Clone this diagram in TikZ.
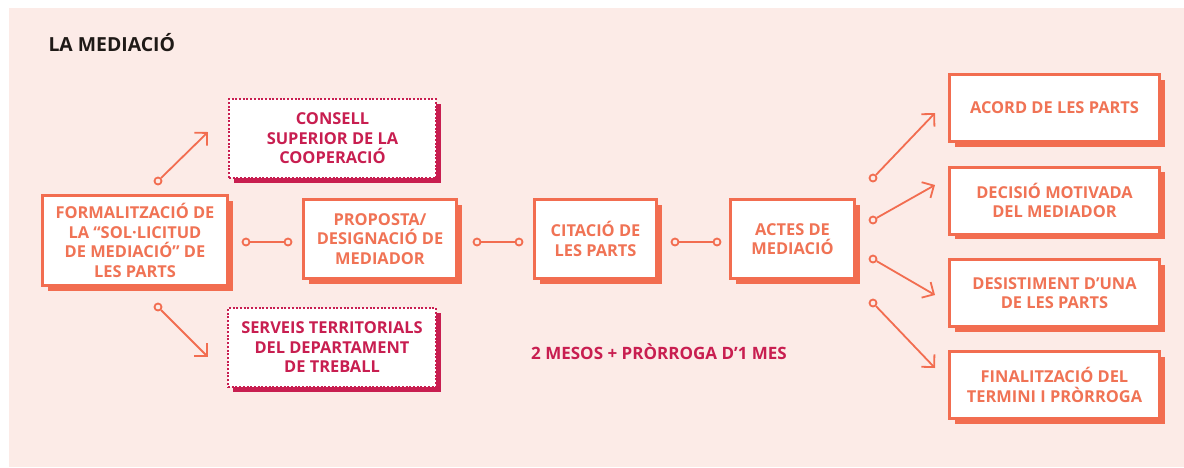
\documentclass[tikz,border=0pt]{standalone}
\usepackage{fontspec}
\setmainfont{Open Sans}
\usetikzlibrary{arrows.meta,shadows}
\definecolor{bgpink}{HTML}{FCEBE7}
\definecolor{coral}{HTML}{F26D50}
\definecolor{coraltext}{HTML}{F07355}
\definecolor{crimson}{HTML}{C81E50}
\definecolor{titleblack}{HTML}{1F1A17}
\tikzset{
  stepbox/.style={draw=coral, line width=3pt, fill=white, align=center,
    text=coraltext, font=\bfseries\fontsize{16.4}{19.5}\selectfont,
    inner sep=0pt,
    drop shadow={shadow xshift=5pt, shadow yshift=-5pt, fill=coral, opacity=1}},
  orgbox/.style={draw=crimson, line width=2.3pt, line cap=butt,
    dash pattern=on 2pt off 1.7pt, fill=white, align=center,
    text=crimson, font=\bfseries\fontsize{16.4}{19.5}\selectfont,
    inner sep=0pt,
    drop shadow={shadow xshift=5pt, shadow yshift=-5pt, fill=crimson, opacity=1}},
  ring/.style={circle, draw=coral, line width=1.8pt, fill=bgpink,
    minimum size=7pt, inner sep=0pt},
  link/.style={draw=coral, line width=1.8pt},
  arrowlink/.style={draw=coral, line width=1.8pt,
    -{Straight Barb[length=9pt, width=18pt, line width=1.8pt]}},
}
\begin{document}
\begin{tikzpicture}[x=1pt, y=-1pt]
\useasboundingbox (0,0) rectangle (1184,467);
\fill[white] (0,0) rectangle (1184,467);
\fill[bgpink] (9,8) rectangle (1184,467);

\node[anchor=west, text=titleblack, font=\bfseries\fontsize{19.4}{23}\selectfont] (title) at (45,43) {LA MEDIACIÓ};

% main flow boxes
\node[stepbox, minimum width=185pt, minimum height=90pt] (form) at (135,240.5)
  {FORMALITZACIÓ DE\\LA “SOL·LICITUD\\DE MEDIACIÓ” DE\\LES PARTS};
\node[stepbox, minimum width=153pt, minimum height=79pt] (prop) at (380,239)
  {PROPOSTA/\\DESIGNACIÓ DE\\MEDIADOR};
\node[stepbox, minimum width=122pt, minimum height=79pt] (cita) at (595.5,239)
  {CITACIÓ DE\\LES PARTS};
\node[stepbox, minimum width=124pt, minimum height=79pt] (actes) at (792.5,239)
  {ACTES DE\\MEDIACIÓ};

% organisations
\node[orgbox, minimum width=207pt, minimum height=79pt] (consell) at (332.5,138.5)
  {CONSELL\\SUPERIOR DE LA\\COOPERACIÓ};
\node[orgbox, minimum width=208pt, minimum height=79pt] (serveis) at (332,347.5)
  {SERVEIS TERRITORIALS\\DEL DEPARTAMENT\\DE TREBALL};

% outcomes
\node[stepbox, minimum width=210pt, minimum height=67pt] (acord) at (1054.5,108)
  {ACORD DE LES PARTS};
\node[stepbox, minimum width=210pt, minimum height=67pt] (decisio) at (1054.5,200.5)
  {DECISIÓ MOTIVADA\\DEL MEDIADOR};
\node[stepbox, minimum width=210pt, minimum height=67pt] (desist) at (1054.5,293)
  {DESISTIMENT D’UNA\\DE LES PARTS};
\node[stepbox, minimum width=210pt, minimum height=67pt] (final) at (1054.5,385)
  {FINALITZACIÓ DEL\\TERMINI I PRÒRROGA};

\node[text=crimson, font=\bfseries\fontsize{17}{20}\selectfont] (termini) at (659,352)
  {2 MESOS + PRÒRROGA D’1 MES};

% horizontal connectors
\node[ring] (r1a) at (246,242) {};
\node[ring] (r1b) at (288,242) {};
\node[ring] (r2a) at (477,242) {};
\node[ring] (r2b) at (519,242) {};
\node[ring] (r3a) at (675,242) {};
\node[ring] (r3b) at (717,242) {};
\draw[link] (r1a) -- (r1b);
\draw[link] (r2a) -- (r2b);
\draw[link] (r3a) -- (r3b);

% left arrows
\node[ring] (lu) at (158,181) {};
\coordinate (lut) at (208,132);
\node[ring] (ld) at (158,307) {};
\coordinate (ldt) at (208,357);
\draw[arrowlink] (lu) -- (lut);
\draw[arrowlink] (ld) -- (ldt);

% right arrows
\node[ring] (o1) at (873,178) {};
\coordinate (o1t) at (935,113);
\node[ring] (o2) at (873,220) {};
\coordinate (o2t) at (935,185);
\node[ring] (o3) at (873,259) {};
\coordinate (o3t) at (935,295);
\node[ring] (o4) at (873,303) {};
\coordinate (o4t) at (935,368);
\draw[arrowlink] (o1) -- (o1t);
\draw[arrowlink] (o2) -- (o2t);
\draw[arrowlink] (o3) -- (o3t);
\draw[arrowlink] (o4) -- (o4t);
\end{tikzpicture}
\end{document}
